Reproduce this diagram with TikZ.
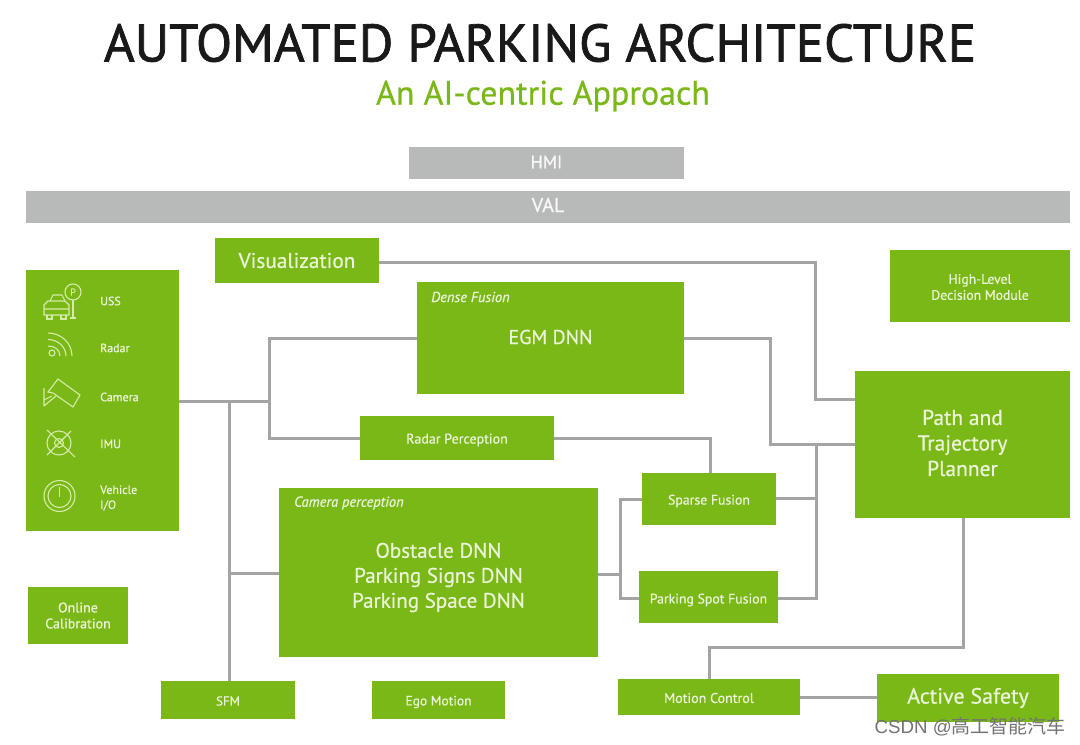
\documentclass[tikz,border=0pt]{standalone}
\usepackage{fontspec}
\setmainfont{PT Sans}[FakeBold=0.6]
\newfontfamily\heavy{PT Sans}[FakeBold=1.4]
\newfontfamily\cjkwm{Noto Sans CJK SC}
\newfontfamily\latinwm{Liberation Sans}
\definecolor{nvgreen}{HTML}{7AB818}
\definecolor{bargray}{HTML}{B8BAB9}
\definecolor{linegray}{HTML}{A3A5A5}
\definecolor{softwhite}{HTML}{EAF4D6}
\definecolor{icon}{HTML}{D6EBA8}
\newcommand{\fs}[1]{\fontsize{#1}{#1}\selectfont}
\newcommand{\fl}[2]{\fontsize{#1}{#2}\selectfont}
% move text down / up inside a centred box by half of the given padding
\newcommand{\dn}[2]{\raisebox{0pt}[\dimexpr\height+#1pt\relax]{#2}}
\newcommand{\up}[2]{\raisebox{0pt}[\height][\dimexpr\depth+#1pt\relax]{#2}}
\tikzset{
  x=1pt,y=-1pt,
  greenbox/.style={fill=nvgreen,draw=none,inner sep=0pt,outer sep=0pt,align=center,text=softwhite,font=\fs{11}},
  graybar/.style={fill=bargray,draw=none,inner sep=0pt,outer sep=0pt,align=center,text=white!90!bargray,font=\fs{15}},
  wire/.style={draw=linegray,line width=3pt,line join=miter},
  sensorlabel/.style={text=softwhite,font=\fs{12},align=left,anchor=west,inner sep=0pt},
  tag/.style={text=softwhite,font=\itshape\fs{14.5},anchor=west,inner sep=0pt},
  iconline/.style={draw=icon,line width=1.1pt,fill=none},
}
\newcommand{\bx}[7][greenbox]{% style,name,x1,y1,x2,y2,text
  \node[#1,minimum width=#5pt-#3pt,minimum height=#6pt-#4pt] (#2) at ({(#3+#5)/2},{(#4+#6)/2}) {#7};}
\begin{document}
\begin{tikzpicture}
\useasboundingbox (0,0) rectangle (1080,745);
\fill[white] (0,0) rectangle (1080,745);

\node[font=\heavy\fs{52.8},text=black!90] (title) at (540,43) {AUTOMATED PARKING ARCHITECTURE};
\node[font=\fs{34},text=nvgreen] (subtitle) at (543,96) {An AI-centric Approach};

\bx[graybar]{hmi}{409}{147}{684}{179}{\fs{18}\up{2}{HMI}}
\bx[graybar]{val}{26}{191}{1070}{223}{\fs{20}\up{4}{VAL}}

\coordinate (visout) at (379,262);
\coordinate (visturn) at (815,262);
\coordinate (pathvis) at (855,399);
\coordinate (sensorout) at (179,401);
\coordinate (sfmbus) at (229,401);
\coordinate (mainbus) at (269,401);
\coordinate (densein) at (417,338);
\coordinate (radarin) at (360,438);
\coordinate (caminbus) at (229,573);
\coordinate (camin) at (279,573);
\coordinate (sfmtop) at (229,681);
\coordinate (denseout) at (684,338);
\coordinate (pathin) at (855,444);
\coordinate (denseturn) at (770,338);
\coordinate (fusionbus) at (816,444);
\coordinate (sparseout) at (776,498);
\coordinate (sparsebus) at (816,498);
\coordinate (spotout) at (778,598);
\coordinate (spotbus) at (816,598);
\coordinate (radarout) at (554,438);
\coordinate (sparsetop) at (710,473);
\coordinate (camout) at (598,574);
\coordinate (fork) at (620,574);
\coordinate (sparsein) at (642,499);
\coordinate (spotin) at (639,598);
\coordinate (pathout) at (963,518);
\coordinate (pathdown) at (963,647);
\coordinate (motiontop) at (709,679);
\coordinate (motionleg) at (709,647);
\coordinate (motionout) at (800,697);
\coordinate (activein) at (877,697);

\path[wire] (visout) -- (visturn) |- (pathvis);
\path[wire] (sensorout) -- (mainbus);
\path[wire] (densein) -| (mainbus) |- (radarin);
\path[wire] (sfmbus) -- (sfmtop);
\path[wire] (caminbus) -- (camin);
\path[wire] (denseout) -- (denseturn) |- (pathin);
\path[wire] (fusionbus) -- (spotbus) -- (spotout);
\path[wire] (sparseout) -- (sparsebus);
\path[wire] (radarout) -| (sparsetop);
\path[wire] (camout) -- (fork);
\path[wire] (sparsein) -| (fork) |- (spotin);
\path[wire] (pathout) -- (pathdown) -- (motionleg) -- (motiontop);
\path[wire] (motionout) -- (activein);

\bx{vis}{215}{238}{379}{283}{\fs{21.3}Visualization}
\bx{sensors}{26}{270}{179}{531}{}
\bx{dense}{417}{282}{684}{394}{\fs{20}\up{2}{EGM DNN}}
\bx[greenbox,font=\fl{13.7}{16}]{high}{890}{250}{1070}{322}{\dn{2}{High-Level}\\Decision Module}
\bx[greenbox,font=\fl{21.5}{25.5}]{path}{855}{371}{1070}{518}{Path and\\Trajectory\\\up{3}{Planner}}
\bx{radar}{360}{416}{554}{460}{\fs{14}\dn{4}{Radar Perception}}
\bx[greenbox,font=\fl{21}{25}]{camera}{279}{488}{598}{657}{\dn{10}{Obstacle DNN}\\Parking Signs DNN\\Parking Space DNN}
\bx{sparse}{642}{473}{776}{525}{\fs{13.8}\dn{4}{Sparse Fusion}}
\bx{spot}{639}{571}{778}{623}{\fs{13.8}\dn{6}{Parking Spot Fusion}}
\bx[greenbox,font=\fl{14}{16}]{online}{28}{587}{128}{644}{Online\\Calibration}
\bx{sfm}{161}{681}{295}{719}{\fs{13}\dn{2}{SFM}}
\bx{ego}{372}{681}{505}{719}{\fs{13.5}\dn{4}{Ego Motion}}
\bx{motion}{618}{679}{800}{715}{\fs{14}\dn{2}{Motion Control}}
\bx{active}{877}{674}{1059}{722}{\fs{22}Active Safety}

\node[tag] (densetag) at (431,297) {Dense Fusion};
\node[tag] (camtag) at (294,503) {Camera perception};

\node[sensorlabel] (uss) at (100,301) {USS};
\node[sensorlabel] (radarl) at (100,348) {Radar};
\node[sensorlabel] (caml) at (100,397) {Camera};
\node[sensorlabel] (imul) at (100,444) {IMU};
\node[sensorlabel,font=\fl{12}{15},text width=50pt] (vehl) at (100,498) {Vehicle\\I/O};

% USS icon: car and parking sign
\draw[iconline] (44,305) -- (48,301) -- (65,301) -- (69,305) -- (69,315) -- (44,315) -- cycle;
\draw[iconline] (44,309) -- (69,309) (50,301) -- (53,295) -- (62,295) -- (65,301);
\draw[iconline] (47,315) -- (47,319) -- (52,319) -- (52,315) (61,315) -- (61,319) -- (66,319) -- (66,315);
\draw[iconline] (73,292) circle (8);
\draw[iconline] (73,300) -- (73,318) (70,318) -- (76,318);
\node[text=icon,font=\fs{10},inner sep=0pt] (ptag) at (73,292) {P};
% Radar icon
\draw[iconline] (52,353) circle (3);
\draw[iconline] (48,346) .. controls (55,346) and (60,350) .. (60,356);
\draw[iconline] (48,339.5) .. controls (58,339.5) and (66,347) .. (66,356);
\draw[iconline] (48,333) .. controls (61,333) and (72,343) .. (72,356);
% Camera icon
\draw[iconline] (48,392) -- (58,379) -- (80,395) -- (73,407) -- (53,393) -- cycle;
\draw[iconline] (44,388) -- (44,406) (44,400) -- (52,396) (44,406) -- (56,396);
% IMU icon
\draw[iconline] (59,443) circle (12);
\draw[iconline] (59,443) circle (4.5);
\draw[iconline] (47,430) -- (75,457) (71,431) -- (47,455);
% Vehicle I/O icon
\draw[iconline] (59.5,496) circle (15.5);
\draw[iconline] (59.5,496) circle (11.5);
\draw[iconline] (59.5,487) -- (59.5,497);

\node[anchor=east,text=black!55,inner sep=0pt] (wm) at (1066,727) {\latinwm\fs{18.7}CSDN @\cjkwm\fs{19}高工智能汽车};
\end{tikzpicture}
\end{document}
